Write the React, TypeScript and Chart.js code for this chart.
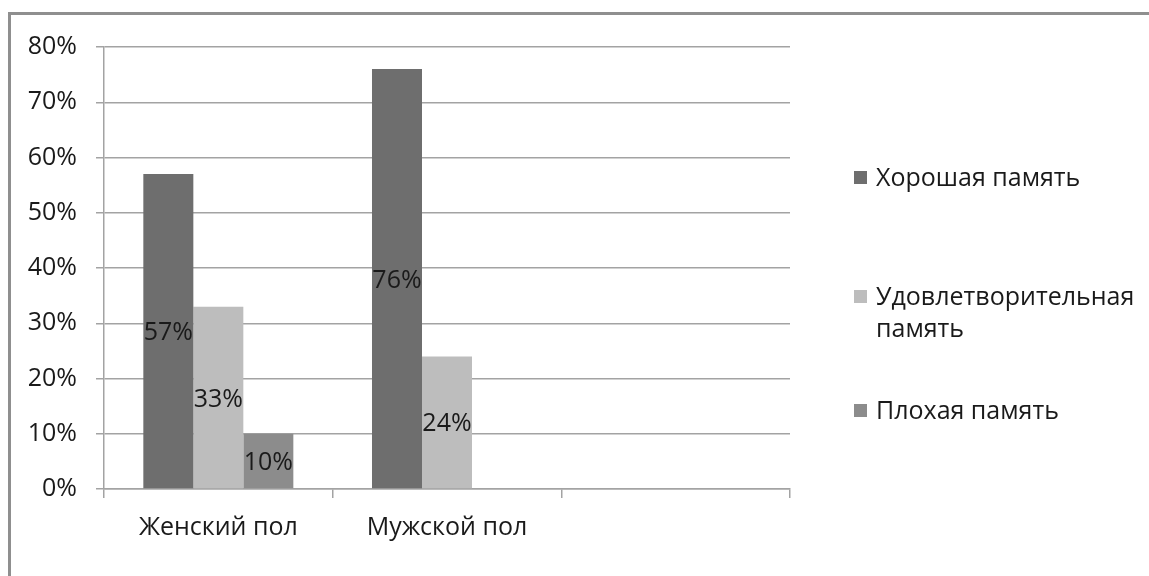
import React, { useEffect, useRef } from "react";
import { Chart, registerables } from "chart.js";

Chart.register(...registerables);

const categories: string[] = ["Женский пол", "Мужской пол", ""];
const seriesNames: string[] = ["Хорошая память", "Удовлетворительная память", "Плохая память"];
const goodMemory: (number | null)[] = [57, 76, null];
const fairMemory: (number | null)[] = [33, 24, null];
const poorMemory: (number | null)[] = [10, null, null];
const yMin = 0;
const yMax = 80;
const yStep = 10;
const seriesColors: string[] = ["#6e6e6e", "#bdbdbd", "#8c8c8c"];

const FONT = "'Open Sans', 'Noto Sans', sans-serif";
const FONT_SIZE = 25;
const TEXT_COLOR = "#1a1a1a";
const GRID_COLOR = "#a3a3a3";

const valueLabels = {
  id: "valueLabels",
  afterDatasetsDraw(chart: any) {
    const ctx = chart.ctx;
    ctx.save();
    ctx.font = `${FONT_SIZE}px ${FONT}`;
    ctx.fillStyle = TEXT_COLOR;
    ctx.textAlign = "center";
    ctx.textBaseline = "middle";
    chart.data.datasets.forEach((ds: any, di: number) => {
      const meta = chart.getDatasetMeta(di);
      meta.data.forEach((bar: any, i: number) => {
        const v = ds.data[i];
        if (v === null || v === undefined) return;
        const p = bar.getProps(["x", "y", "base"], true);
        ctx.fillText(`${v}%`, p.x, (p.y + p.base) / 2 + 2);
      });
    });
    ctx.restore();
  },
};

const sideLegend = {
  id: "sideLegend",
  afterDraw(chart: any) {
    const ctx = chart.ctx;
    const area = chart.chartArea;
    const boxX = area.right + 64;
    const boxSize = 13;
    const textX = boxX + 22;
    const maxW = chart.width - textX - 4;
    const lineH = 32;
    const firstBaselines = [area.top + 139, area.top + 258, area.top + 372];
    ctx.save();
    ctx.font = `${FONT_SIZE}px ${FONT}`;
    ctx.textBaseline = "alphabetic";
    ctx.textAlign = "left";
    chart.data.datasets.forEach((ds: any, di: number) => {
      const words = String(ds.label).split(" ");
      const lines: string[] = [];
      let cur = "";
      words.forEach((w) => {
        const test = cur ? cur + " " + w : w;
        if (cur && ctx.measureText(test).width > maxW) {
          lines.push(cur);
          cur = w;
        } else {
          cur = test;
        }
      });
      if (cur) lines.push(cur);
      const b = firstBaselines[di];
      ctx.fillStyle = ds.backgroundColor;
      ctx.fillRect(boxX, b - boxSize - 2, boxSize, boxSize);
      ctx.fillStyle = TEXT_COLOR;
      lines.forEach((ln, li) => ctx.fillText(ln, textX, b + li * lineH));
    });
    ctx.restore();
  },
};

export default function App() {
  const ref = useRef<HTMLCanvasElement | null>(null);

  useEffect(() => {
    if (!ref.current) return;
    const series = [goodMemory, fairMemory, poorMemory];
    const chart = new Chart(ref.current, {
      type: "bar",
      data: {
        labels: categories,
        datasets: series.map((d, i) => ({
          label: seriesNames[i],
          data: d,
          backgroundColor: seriesColors[i],
          borderWidth: 0,
          barPercentage: 1,
          categoryPercentage: 0.656,
        })),
      },
      options: {
        responsive: false,
        animation: false,
        devicePixelRatio: 1,
        layout: { padding: { left: 8, top: 47, right: 359, bottom: 27 } },
        plugins: {
          legend: { display: false },
          tooltip: { enabled: false },
          title: { display: false },
        },
        scales: {
          x: {
            grid: {
              offset: true,
              drawOnChartArea: false,
              tickLength: 9,
              color: GRID_COLOR,
              lineWidth: 1.5,
            },
            border: { color: GRID_COLOR, width: 1.5 },
            ticks: {
              color: TEXT_COLOR,
              font: { family: FONT, size: FONT_SIZE },
              padding: 15,
              maxRotation: 0,
              autoSkip: false,
            },
            afterFit: (s: any) => {
              s.height = 60;
            },
          },
          y: {
            min: yMin,
            max: yMax,
            ticks: {
              stepSize: yStep,
              color: TEXT_COLOR,
              font: { family: FONT, size: FONT_SIZE },
              padding: 19,
              callback: (v: any) => `${v}%`,
            },
            grid: {
              color: GRID_COLOR,
              lineWidth: 1.5,
              tickLength: 8,
            },
            border: { color: GRID_COLOR, width: 1.5 },
            afterFit: (s: any) => {
              s.width = 96;
            },
          },
        },
      },
      plugins: [valueLabels, sideLegend],
    });
    return () => chart.destroy();
  }, []);

  return (
    <div>
      <div
        style={{
          position: "fixed",
          left: 8,
          top: 12,
          width: 1300,
          height: 800,
          borderTop: "3px solid #8f8f8f",
          borderLeft: "3px solid #8f8f8f",
          boxSizing: "border-box",
        }}
      />
      <canvas
        ref={ref}
        width={1149}
        height={576}
        style={{ position: "fixed", left: 0, top: 0, width: 1149, height: 576, display: "block" }}
      />
    </div>
  );
}
